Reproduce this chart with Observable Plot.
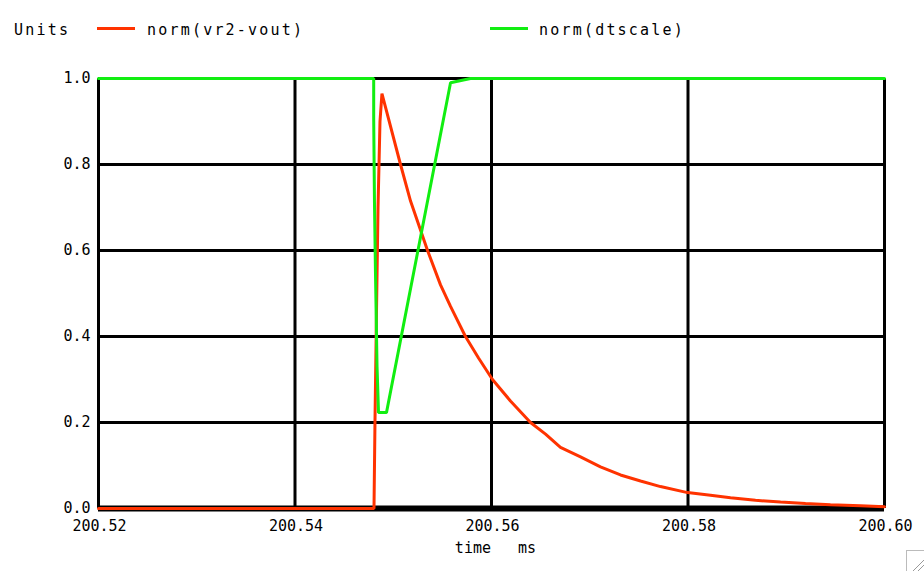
<!DOCTYPE html>
<html>
<head>
<meta charset="utf-8">
<script src="https://cdn.jsdelivr.net/npm/d3@7"></script>
<script src="https://cdn.jsdelivr.net/npm/@observablehq/plot@0.6"></script>
<style>
  html, body { margin: 0; padding: 0; background: #fff; }
  #wrap { position: relative; width: 924px; height: 571px; overflow: hidden; }
  .lg { position: absolute; top: 20px; font-family: "DejaVu Sans Mono", monospace; font-size: 15px; letter-spacing: 2.2px; color: #000; line-height: 20px; }
  .sw { position: absolute; top: 27px; height: 3px; }
</style>
</head>
<body>
<div id="wrap"></div>
<script>
// ---- data ----
const seriesNames = ["norm(vr2-vout)", "norm(dtscale)"];
const seriesColors = ["#ff3300", "#11ee11"];

const redTime  = [200.52, 200.54804, 200.54814, 200.54829, 200.54845, 200.54865, 200.54885,
                  200.55074, 200.55176, 200.55349, 200.55481, 200.55583, 200.55735, 200.55868,
                  200.56010, 200.56193, 200.56397, 200.56550, 200.56702, 200.56906, 200.57109,
                  200.57313, 200.57517, 200.57720, 200.57995, 200.58229, 200.58433, 200.58687,
                  200.58942, 200.59196, 200.59450, 200.59756, 200.60];
const redValue = [0.0, 0.0, 0.2, 0.45, 0.7, 0.9, 0.965,
                  0.80, 0.715, 0.60, 0.52, 0.47, 0.40, 0.35,
                  0.30, 0.25, 0.20, 0.173, 0.142, 0.12, 0.097,
                  0.078, 0.064, 0.051, 0.037, 0.031, 0.025, 0.019,
                  0.015, 0.0115, 0.009, 0.0065, 0.004];

const greenTime  = [200.52, 200.54801, 200.54801, 200.54809, 200.54819, 200.54835, 200.54850,
                    200.54931, 200.55583, 200.55786, 200.60];
const greenValue = [1.0, 1.0, 0.907, 0.71, 0.55, 0.33, 0.223,
                    0.223, 0.99, 1.0, 1.0];

const xTicks = [200.52, 200.54, 200.56, 200.58, 200.60];
const yTicks = [0.0, 0.2, 0.4, 0.6, 0.8, 1.0];
const xLabel = "time   ms";
const yUnits = "Units";

// ---- build ----
const red = redTime.map((t, i) => ({t, v: redValue[i]}));
const green = greenTime.map((t, i) => ({t, v: greenValue[i]}));

const font = {fontFamily: "DejaVu Sans Mono, monospace", fontSize: 15, letterSpacing: "2.2px"};

const chart = Plot.plot({
  width: 924,
  height: 571,
  marginLeft: 98,
  marginRight: 40,
  marginTop: 78,
  marginBottom: 63,
  style: {fontFamily: "DejaVu Sans Mono, monospace", fontSize: "15px", background: "#fff", color: "#000"},
  x: {domain: [200.52, 200.60]},
  y: {domain: [0, 1]},
  marks: [
    Plot.ruleX(xTicks, {stroke: "#000", strokeWidth: 3}),
    Plot.ruleY(yTicks, {stroke: "#000", strokeWidth: 3}),
    Plot.ruleY([0], {stroke: "#000", strokeWidth: 6}),
    Plot.line(red, {x: "t", y: "v", stroke: seriesColors[0], strokeWidth: 3, strokeLinejoin: "miter"}),
    Plot.line(green, {x: "t", y: "v", stroke: seriesColors[1], strokeWidth: 3, strokeLinejoin: "miter"}),
    Plot.axisX({ticks: xTicks, tickSize: 0, tickPadding: 12, tickFormat: d3.format(".2f"), label: null, ...font, dx: 1}),
    Plot.axisY({ticks: yTicks, tickSize: 0, tickPadding: 8, tickFormat: d3.format(".1f"), label: null, ...font}),
    Plot.text([xLabel], {frameAnchor: "bottom", dy: 44, dx: 4, ...font, fill: "#000"})
  ]
});

const wrap = document.getElementById("wrap");
wrap.appendChild(chart);

// legend row above the plot
function addText(txt, left) {
  const d = document.createElement("div");
  d.className = "lg"; d.style.left = left + "px"; d.textContent = txt;
  wrap.appendChild(d);
}
function addSwatch(color, left, w) {
  const d = document.createElement("div");
  d.className = "sw"; d.style.left = left + "px"; d.style.width = w + "px"; d.style.background = color;
  wrap.appendChild(d);
}
addText(yUnits, 14);
addSwatch(seriesColors[0], 97, 38);
addText(seriesNames[0], 147);
addSwatch(seriesColors[1], 490, 38);
addText(seriesNames[1], 539);

// small resize grip in the corner
const grip = document.createElementNS("http://www.w3.org/2000/svg", "svg");
grip.setAttribute("width", "20"); grip.setAttribute("height", "22");
grip.style.position = "absolute"; grip.style.left = "906px"; grip.style.top = "550px";
grip.innerHTML = '<rect x="0.5" y="0.5" width="30" height="30" fill="#fff" stroke="#bbb"/>' +
  '<line x1="6" y1="22" x2="20" y2="8" stroke="#999"/><line x1="11" y1="22" x2="20" y2="13" stroke="#999"/>';
wrap.appendChild(grip);
</script>
</body>
</html>
